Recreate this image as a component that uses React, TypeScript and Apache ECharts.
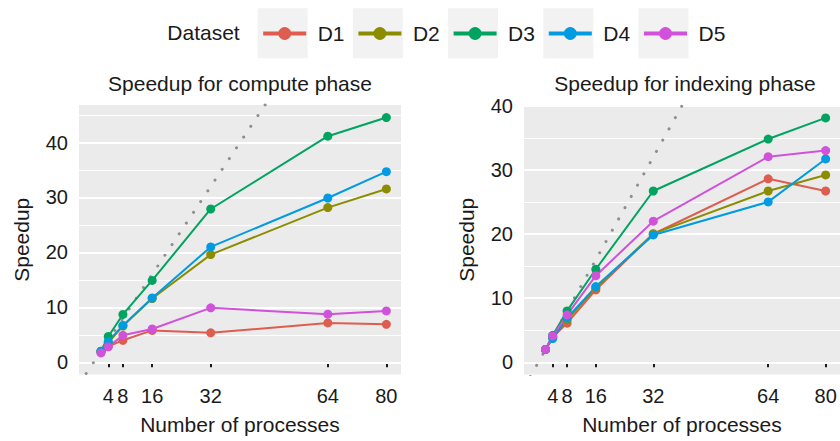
import React, { useEffect, useRef } from 'react';
import * as echarts from 'echarts';

const datasets = ['D1', 'D2', 'D3', 'D4', 'D5'];
const colors = ['#DE5C50', '#8C8C00', '#00A35F', '#009BE0', '#D052DB'];
const processes = [2, 4, 8, 16, 32, 64, 80];
const xTicks = [4, 8, 16, 32, 64, 80];
const yTicks = [0, 10, 20, 30, 40];
const yMinorLeft = [5, 15, 25, 35, 45];
const yMinorRight = [5, 15, 25, 35];

// Speedup for compute phase
const computeD1 = [1.9, 2.9, 4.0, 5.8, 5.35, 7.15, 6.9];
const computeD2 = [1.9, 3.6, 6.6, 11.6, 19.6, 28.15, 31.55];
const computeD3 = [2.0, 4.7, 8.7, 14.9, 27.9, 41.15, 44.55];
const computeD4 = [2.0, 3.8, 6.7, 11.7, 21.0, 29.9, 34.7];
const computeD5 = [1.7, 2.8, 4.9, 6.05, 9.9, 8.75, 9.35];

// Speedup for indexing phase
const indexD1 = [2.0, 3.9, 6.1, 11.3, 20.0, 28.6, 26.7];
const indexD2 = [2.0, 3.9, 6.6, 11.6, 20.05, 26.7, 29.2];
const indexD3 = [2.0, 4.2, 8.0, 14.5, 26.7, 34.8, 38.1];
const indexD4 = [2.0, 3.7, 6.9, 11.8, 19.85, 25.0, 31.7];
const indexD5 = [2.0, 4.1, 7.4, 13.5, 22.0, 32.05, 33.0];

// ideal (linear) speedup reference y = x
const idealX = [-4, 84];

const computeSeries = [computeD1, computeD2, computeD3, computeD4, computeD5];
const indexSeries = [indexD1, indexD2, indexD3, indexD4, indexD5];

const FONT = 'Liberation Sans, Arial, Helvetica, sans-serif';
const TXT = '#1a1a1a';

export default function App() {
  const ref = useRef<HTMLDivElement>(null);
  useEffect(() => {
    if (!ref.current) return;
    const chart = echarts.init(ref.current, undefined, { renderer: 'svg' });

    const gridLines = (minor: number[]) => ({
      silent: true,
      symbol: 'none',
      z: 1,
      animation: false,
      label: { show: false },
      emphasis: { disabled: true },
      data: [
        ...yTicks.map((v) => ({ yAxis: v, lineStyle: { color: '#ffffff', width: 2, type: 'solid' } })),
        ...minor.map((v) => ({ yAxis: v, lineStyle: { color: '#ffffff', width: 1, type: 'solid' } })),
      ],
    });

    const xAxisBase = {
      type: 'value',
      min: -4,
      max: 84,
      axisLine: { show: false },
      splitLine: { show: false },
      axisTick: { show: true, customValues: xTicks, length: 5, lineStyle: { color: TXT, width: 2 } },
      axisLabel: { customValues: xTicks, fontSize: 20, color: TXT, margin: 11, fontFamily: FONT },
      name: 'Number of processes',
      nameLocation: 'middle',
      nameGap: 39,
      nameTextStyle: { fontSize: 21, color: TXT, fontFamily: FONT },
    };
    const yAxisBase = {
      type: 'value',
      axisLine: { show: false },
      splitLine: { show: false },
      axisTick: { show: true, customValues: yTicks, length: 5, lineStyle: { color: TXT, width: 2 } },
      axisLabel: { customValues: yTicks, fontSize: 20, color: TXT, margin: 11, fontFamily: FONT },
      name: 'Speedup',
      nameLocation: 'middle',
      nameGap: 47,
      nameTextStyle: { fontSize: 21, color: TXT, fontFamily: FONT },
    };

    const series: any[] = [];
    [0, 1].forEach((g) => {
      series.push({
        name: 'ideal',
        type: 'line',
        xAxisIndex: g,
        yAxisIndex: g,
        data: idealX.map((x) => [x, x]),
        symbol: 'none',
        silent: true,
        clip: true,
        z: 2,
        lineStyle: { color: '#8e8e8e', width: 3, type: [0.01, 12.9], cap: 'round' },
        markLine: gridLines(g === 0 ? yMinorLeft : yMinorRight),
      });
      const src = g === 0 ? computeSeries : indexSeries;
      datasets.forEach((name, i) => {
        series.push({
          name,
          type: 'line',
          xAxisIndex: g,
          yAxisIndex: g,
          data: processes.map((p, k) => [p, src[i][k]]),
          symbol: 'circle',
          symbolSize: 9,
          z: 3,
          color: colors[i],
          lineStyle: { width: 2, color: colors[i] },
          itemStyle: { color: colors[i] },
          emphasis: { disabled: true },
        });
      });
    });

    const option: any = {
      animation: false,
      textStyle: { fontFamily: FONT },
      title: [
        {
          text: 'Speedup for compute phase',
          left: 240,
          top: 73,
          textAlign: 'center',
          padding: 0,
          textStyle: { fontSize: 21, fontWeight: 'normal', color: TXT, fontFamily: FONT },
        },
        {
          text: 'Speedup for indexing phase',
          left: 685,
          top: 73,
          textAlign: 'center',
          padding: 0,
          textStyle: { fontSize: 21, fontWeight: 'normal', color: TXT, fontFamily: FONT },
        },
      ],
      legend: datasets.map((name, i) => ({
        data: [name],
        left: 261.2 + 95.2 * i,
        top: 23,
        padding: 0,
        itemWidth: 43,
        itemHeight: 16,
        selectedMode: false,
        lineStyle: { width: 4 },
        textStyle: { fontSize: 21, color: TXT, fontFamily: FONT, padding: [0, 0, 0, 6.5] },
      })),
      graphic: [
        {
          type: 'text',
          left: 167.3,
          top: 22,
          style: { text: 'Dataset', fontSize: 21, fill: TXT, fontFamily: FONT },
          z: 10,
        },
        ...datasets.map((_, i) => ({
          type: 'rect',
          shape: { x: 257.7 + 95.2 * i, y: 8.3, width: 50, height: 50 },
          style: { fill: '#F2F2F2' },
          z: -1,
          silent: true,
        })),
      ],
      grid: [
        { left: 79, top: 105, width: 322, height: 269.5, show: true, backgroundColor: '#EBEBEB', borderWidth: 0, containLabel: false },
        { left: 524, top: 105, width: 322, height: 269.5, show: true, backgroundColor: '#EBEBEB', borderWidth: 0, containLabel: false },
      ],
      xAxis: [
        { ...xAxisBase, gridIndex: 0 },
        { ...xAxisBase, gridIndex: 1 },
      ],
      yAxis: [
        { ...yAxisBase, gridIndex: 0, min: -2.23, max: 46.83 },
        { ...yAxisBase, gridIndex: 1, min: -1.91, max: 40.11 },
      ],
      series,
    };
    chart.setOption(option);
    return () => chart.dispose();
  }, []);

  return (
    <div
      ref={ref}
      style={{ position: 'fixed', left: 0, top: 0, width: 840, height: 441, background: '#ffffff' }}
    />
  );
}
